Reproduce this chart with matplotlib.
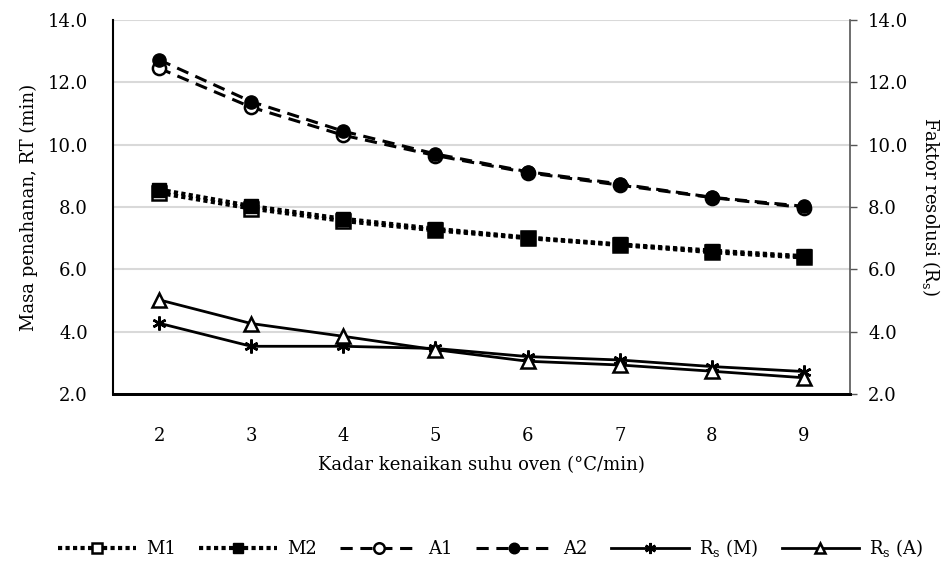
import matplotlib.pyplot as plt

plt.rcParams['font.family'] = ['DejaVu Serif']
plt.rcParams['mathtext.default'] = 'regular'

# =========================
# data
# =========================
rate = ['2', '3', '4', '5', '6', '7', '8', '9']
m1 = [8.45, 7.95, 7.55, 7.25, 7.00, 6.78, 6.55, 6.38]
m2 = [8.56, 8.03, 7.62, 7.30, 7.02, 6.80, 6.60, 6.42]
a1 = [12.45, 11.20, 10.30, 9.65, 9.10, 8.70, 8.30, 7.98]
a2 = [12.72, 11.38, 10.43, 9.70, 9.13, 8.74, 8.31, 8.02]
rs_m = [4.27, 3.53, 3.53, 3.46, 3.20, 3.09, 2.88, 2.72]
rs_a = [5.02, 4.26, 3.85, 3.42, 3.05, 2.93, 2.73, 2.52]
yticks = [2, 4, 6, 8, 10, 12, 14]

# =========================
# plot
# =========================
fig = plt.figure(figsize=(9.53, 5.65), dpi=100)
ax = fig.add_axes([0.1186, 0.3027, 0.7734, 0.662])
x = range(len(rate))

ax.plot(x, m1, linestyle=(0, (1, 0.8)), linewidth=3, color='black',
        marker='s', markersize=9.5, markerfacecolor='white', markeredgewidth=1.8, label='M1')
ax.plot(x, m2, linestyle=(0, (1, 0.8)), linewidth=3, color='black',
        marker='s', markersize=9.5, markerfacecolor='black', label='M2')
ax.plot(x, a1, linestyle=(0, (4, 2.5)), linewidth=2.2, color='black',
        marker='o', markersize=9.5, markerfacecolor='white', markeredgewidth=1.8, label='A1')
ax.plot(x, a2, linestyle=(0, (4, 2.5)), linewidth=2.2, color='black',
        marker='o', markersize=9.5, markerfacecolor='black', label='A2')

ax2 = ax.twinx()
ax2.plot(x, rs_m, linestyle='-', linewidth=2, color='black',
         marker=(6, 2, 0), markersize=10, markeredgewidth=1.8, label='R$_s$ (M)')
ax2.plot(x, rs_a, linestyle='-', linewidth=2, color='black',
         marker='^', markersize=9.5, markerfacecolor='white', markeredgewidth=1.8, label='R$_s$ (A)')

for a in (ax, ax2):
    a.set_ylim(2, 14)
    a.set_yticks(yticks)
    a.set_yticklabels(['%.1f' % v for v in yticks])
    a.set_xlim(-0.5, len(rate) - 0.5)
    a.spines['top'].set_visible(False)

ax.set_xticks(list(x))
ax.set_xticklabels(rate, fontsize=13)
ax.tick_params(axis='x', length=0, pad=24)
ax.tick_params(axis='y', length=0, labelsize=13, pad=18)
ax2.tick_params(axis='y', length=5, width=1, labelsize=13, pad=8, color='#555555')
ax.grid(axis='y', color='#d9d9d9', linewidth=1.5)
ax.set_axisbelow(True)

ax.spines['left'].set_linewidth(1.5)
ax.spines['right'].set_visible(False)
ax.spines['bottom'].set_linewidth(2)
ax2.spines['right'].set_color('#555555')
ax2.spines['right'].set_linewidth(1.2)
ax2.spines['left'].set_visible(False)
ax2.spines['bottom'].set_linewidth(2)

ax.set_xlabel('Kadar kenaikan suhu oven (°C/min)', fontsize=13, labelpad=8)
ax.set_ylabel('Masa penahanan, RT (min)', fontsize=13, labelpad=7)
ax2.set_ylabel('Faktor resolusi (R$_s$)', fontsize=13, rotation=270, labelpad=24)

h1, l1 = ax.get_legend_handles_labels()
h2, l2 = ax2.get_legend_handles_labels()
fig.legend(h1 + h2, l1 + l2, loc='center', bbox_to_anchor=(0.515, 0.03), ncol=6,
           frameon=False, fontsize=13, handlelength=4.3, columnspacing=1.3,
           handletextpad=0.55, markerscale=0.8)

fig.savefig('out.png', dpi=100)
